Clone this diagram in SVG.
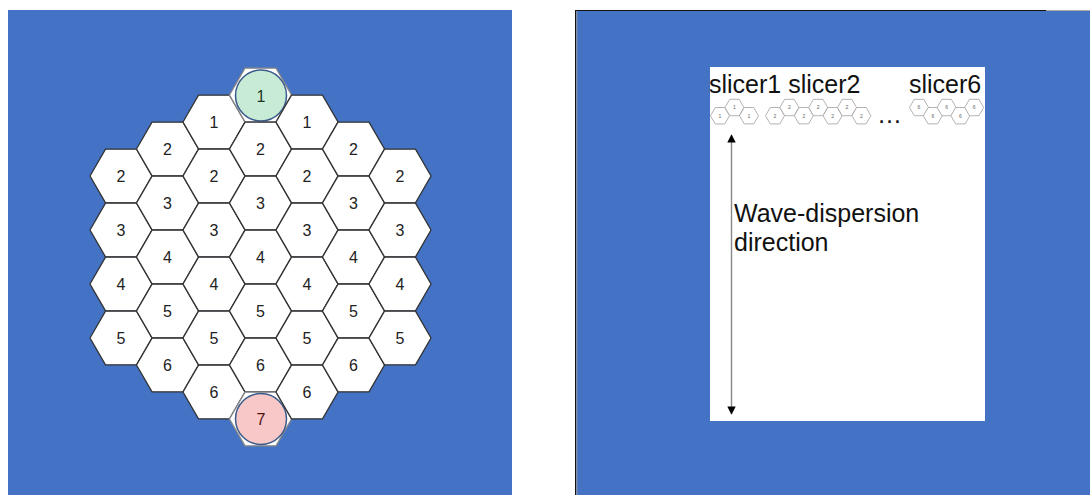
<svg xmlns="http://www.w3.org/2000/svg" width="1090" height="495" viewBox="0 0 1090 495">
<style>
.bg{fill:#4472c4}
.hex{fill:#ffffff;stroke:#333333;stroke-width:1.3}
.lbl{font-family:"Liberation Sans",Arial,sans-serif;font-size:16px;fill:#222222;text-anchor:middle}
.shex{fill:#ffffff;stroke:#a0a0a0;stroke-width:0.8}
.slbl{font-family:"Liberation Sans",Arial,sans-serif;font-size:5px;fill:#666666;text-anchor:middle}
.big{font-family:"Liberation Sans",Arial,sans-serif;font-size:25px;fill:#111111}
</style>
<defs>
<polygon id="hx" points="-31,0 -15.5,-26.85 15.5,-26.85 31,0 15.5,26.85 -15.5,26.85"/>
<polygon id="sh" points="-9.5,0 -4.75,-8.2 4.75,-8.2 9.5,0 4.75,8.2 -4.75,8.2"/>
<marker id="ah" viewBox="0 0 10 10" refX="9" refY="5" markerWidth="6" markerHeight="6" markerUnits="strokeWidth" orient="auto-start-reverse">
<path d="M0,0 L10,5 L0,10 z" fill="#000000"/>
</marker>
</defs>
<rect width="1090" height="495" fill="#ffffff"/>
<g id="left-panel">
<rect class="bg" x="8" y="10" width="504" height="485"/>
</g>
<g id="right-panel">
<rect class="bg" x="575" y="10" width="515" height="485"/>
<line x1="575.5" y1="10" x2="575.5" y2="495" stroke="#111111" stroke-width="1"/>
<line x1="576.8" y1="11" x2="576.8" y2="495" stroke="#9a9a9a" stroke-width="1"/>
<line x1="575" y1="10.5" x2="1046" y2="10.5" stroke="#111111" stroke-width="1"/>
<line x1="1046" y1="10.5" x2="1090" y2="10.5" stroke="#a8a8a8" stroke-width="1"/>
<rect x="710" y="67" width="275" height="354" fill="#ffffff"/>
</g>
<g id="hexgrid">
<g id="c0r2"><use href="#hx" class="hex" x="121" y="176"/><text class="lbl" x="121" y="182">2</text></g>
<g id="c0r3"><use href="#hx" class="hex" x="121" y="230"/><text class="lbl" x="121" y="236">3</text></g>
<g id="c0r4"><use href="#hx" class="hex" x="121" y="284"/><text class="lbl" x="121" y="290">4</text></g>
<g id="c0r5"><use href="#hx" class="hex" x="121" y="338"/><text class="lbl" x="121" y="344">5</text></g>
<g id="c1r2"><use href="#hx" class="hex" x="167.5" y="149"/><text class="lbl" x="167.5" y="155">2</text></g>
<g id="c1r3"><use href="#hx" class="hex" x="167.5" y="203"/><text class="lbl" x="167.5" y="209">3</text></g>
<g id="c1r4"><use href="#hx" class="hex" x="167.5" y="257"/><text class="lbl" x="167.5" y="263">4</text></g>
<g id="c1r5"><use href="#hx" class="hex" x="167.5" y="311"/><text class="lbl" x="167.5" y="317">5</text></g>
<g id="c1r6"><use href="#hx" class="hex" x="167.5" y="365"/><text class="lbl" x="167.5" y="371">6</text></g>
<g id="c2r1"><use href="#hx" class="hex" x="214" y="122"/><text class="lbl" x="214" y="128">1</text></g>
<g id="c2r2"><use href="#hx" class="hex" x="214" y="176"/><text class="lbl" x="214" y="182">2</text></g>
<g id="c2r3"><use href="#hx" class="hex" x="214" y="230"/><text class="lbl" x="214" y="236">3</text></g>
<g id="c2r4"><use href="#hx" class="hex" x="214" y="284"/><text class="lbl" x="214" y="290">4</text></g>
<g id="c2r5"><use href="#hx" class="hex" x="214" y="338"/><text class="lbl" x="214" y="344">5</text></g>
<g id="c2r6"><use href="#hx" class="hex" x="214" y="392"/><text class="lbl" x="214" y="398">6</text></g>
<g id="c3r1"><use href="#hx" class="hex" x="260.5" y="95" style="stroke:#888888"/><circle cx="261" cy="95.5" r="25.5" fill="#c8ebd6" stroke="#3a5a8c" stroke-width="1.5"/><text class="lbl" x="261" y="101.5" style="fill:#1d3a26">1</text></g>
<g id="c3r2"><use href="#hx" class="hex" x="260.5" y="149"/><text class="lbl" x="260.5" y="155">2</text></g>
<g id="c3r3"><use href="#hx" class="hex" x="260.5" y="203"/><text class="lbl" x="260.5" y="209">3</text></g>
<g id="c3r4"><use href="#hx" class="hex" x="260.5" y="257"/><text class="lbl" x="260.5" y="263">4</text></g>
<g id="c3r5"><use href="#hx" class="hex" x="260.5" y="311"/><text class="lbl" x="260.5" y="317">5</text></g>
<g id="c3r6"><use href="#hx" class="hex" x="260.5" y="365"/><text class="lbl" x="260.5" y="371">6</text></g>
<g id="c3r7"><use href="#hx" class="hex" x="260.5" y="419" style="stroke:#888888"/><circle cx="261" cy="419" r="25.5" fill="#f8c8c8" stroke="#3a5a8c" stroke-width="1.5"/><text class="lbl" x="261" y="425" style="fill:#4a1010">7</text></g>
<g id="c4r1"><use href="#hx" class="hex" x="307" y="122"/><text class="lbl" x="307" y="128">1</text></g>
<g id="c4r2"><use href="#hx" class="hex" x="307" y="176"/><text class="lbl" x="307" y="182">2</text></g>
<g id="c4r3"><use href="#hx" class="hex" x="307" y="230"/><text class="lbl" x="307" y="236">3</text></g>
<g id="c4r4"><use href="#hx" class="hex" x="307" y="284"/><text class="lbl" x="307" y="290">4</text></g>
<g id="c4r5"><use href="#hx" class="hex" x="307" y="338"/><text class="lbl" x="307" y="344">5</text></g>
<g id="c4r6"><use href="#hx" class="hex" x="307" y="392"/><text class="lbl" x="307" y="398">6</text></g>
<g id="c5r2"><use href="#hx" class="hex" x="353.5" y="149"/><text class="lbl" x="353.5" y="155">2</text></g>
<g id="c5r3"><use href="#hx" class="hex" x="353.5" y="203"/><text class="lbl" x="353.5" y="209">3</text></g>
<g id="c5r4"><use href="#hx" class="hex" x="353.5" y="257"/><text class="lbl" x="353.5" y="263">4</text></g>
<g id="c5r5"><use href="#hx" class="hex" x="353.5" y="311"/><text class="lbl" x="353.5" y="317">5</text></g>
<g id="c5r6"><use href="#hx" class="hex" x="353.5" y="365"/><text class="lbl" x="353.5" y="371">6</text></g>
<g id="c6r2"><use href="#hx" class="hex" x="400" y="176"/><text class="lbl" x="400" y="182">2</text></g>
<g id="c6r3"><use href="#hx" class="hex" x="400" y="230"/><text class="lbl" x="400" y="236">3</text></g>
<g id="c6r4"><use href="#hx" class="hex" x="400" y="284"/><text class="lbl" x="400" y="290">4</text></g>
<g id="c6r5"><use href="#hx" class="hex" x="400" y="338"/><text class="lbl" x="400" y="344">5</text></g>
</g>
<g id="slicer-titles">
<text class="big" x="709" y="93">slicer1 slicer2</text>
<text class="big" x="909" y="93">slicer6</text>
<text class="big" x="877" y="122.5">…</text>
</g>
<g id="slicer1">
<use href="#sh" class="shex" x="720" y="115.7"/><text class="slbl" x="720" y="117.5">1</text>
<use href="#sh" class="shex" x="734.5" y="107.5"/><text class="slbl" x="734.5" y="109.3">1</text>
<use href="#sh" class="shex" x="749" y="115.7"/><text class="slbl" x="749" y="117.5">1</text>
</g>
<g id="slicer2">
<use href="#sh" class="shex" x="775" y="115.7"/><text class="slbl" x="775" y="117.5">2</text>
<use href="#sh" class="shex" x="789.4" y="107.5"/><text class="slbl" x="789.4" y="109.3">2</text>
<use href="#sh" class="shex" x="803.8" y="115.7"/><text class="slbl" x="803.8" y="117.5">2</text>
<use href="#sh" class="shex" x="818.2" y="107.5"/><text class="slbl" x="818.2" y="109.3">2</text>
<use href="#sh" class="shex" x="832.6" y="115.7"/><text class="slbl" x="832.6" y="117.5">2</text>
<use href="#sh" class="shex" x="847" y="107.5"/><text class="slbl" x="847" y="109.3">2</text>
<use href="#sh" class="shex" x="861.4" y="115.7"/><text class="slbl" x="861.4" y="117.5">2</text>
</g>
<g id="slicer6">
<use href="#sh" class="shex" x="919" y="107.5"/><text class="slbl" x="919" y="109.3">6</text>
<use href="#sh" class="shex" x="932.8" y="115.7"/><text class="slbl" x="932.8" y="117.5">6</text>
<use href="#sh" class="shex" x="946.6" y="107.5"/><text class="slbl" x="946.6" y="109.3">6</text>
<use href="#sh" class="shex" x="960.4" y="115.7"/><text class="slbl" x="960.4" y="117.5">6</text>
<use href="#sh" class="shex" x="974.2" y="107.5"/><text class="slbl" x="974.2" y="109.3">6</text>
</g>
<g id="connectors">
<line x1="731.5" y1="135" x2="731.5" y2="414" stroke="#888888" stroke-width="1.4" marker-start="url(#ah)" marker-end="url(#ah)"/>
</g>
<g id="label">
<text class="big" x="734" y="222">Wave-dispersion</text>
<text class="big" x="734" y="251">direction</text>
</g>
</svg>
